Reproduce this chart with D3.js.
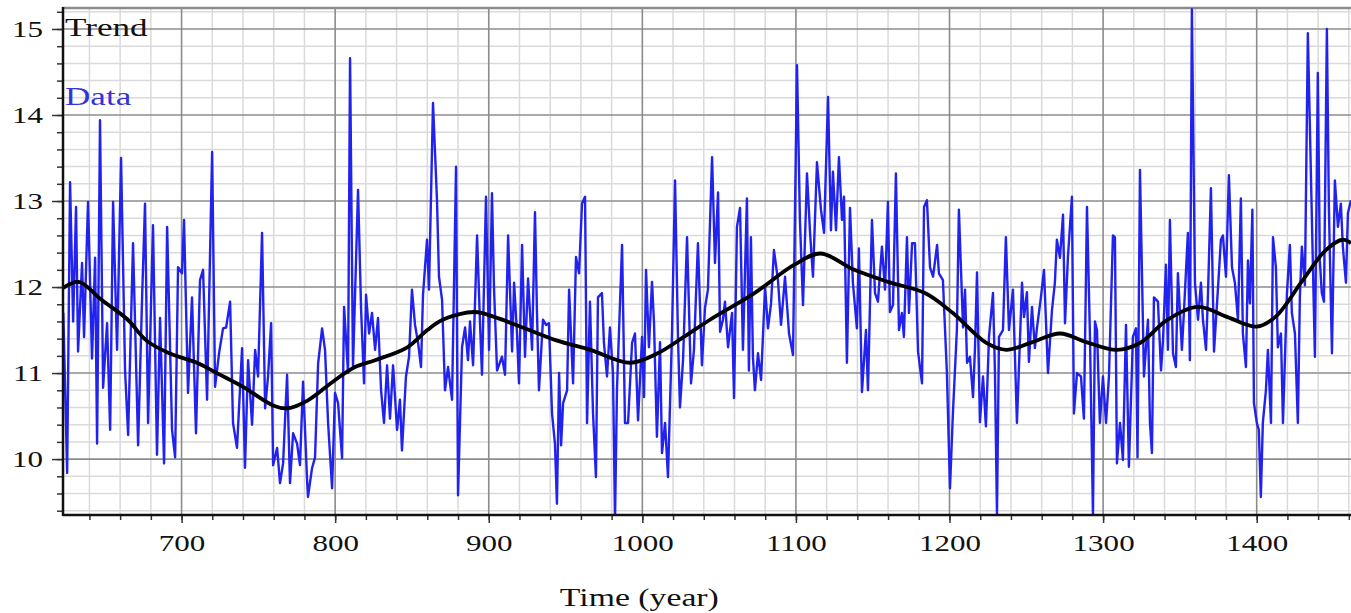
<!DOCTYPE html>
<html><head><meta charset="utf-8">
<script src="https://cdn.jsdelivr.net/npm/d3@7"></script>
<style>body{margin:0;background:#fff}svg{display:block}</style>
</head><body>
<svg id="chart" width="1351" height="613"></svg>
<script>
const dataYears = [623.0,625.5,627.4,629.4,631.3,632.6,635.2,636.5,639.1,641.7,643.7,645.0,646.9,648.9,651.5,653.5,655.4,658.0,660.6,663.2,665.2,668.4,671.7,674.3,676.2,678.2,681.4,684.0,686.0,688.6,690.6,693.8,695.8,697.7,700.3,701.6,704.2,706.8,709.4,712.0,714.0,716.6,719.9,721.8,724.4,727.0,729.0,731.6,733.5,736.1,739.4,741.3,743.3,745.9,747.9,749.8,752.4,754.4,756.3,758.3,759.6,762.2,764.1,766.1,768.7,770.6,772.6,775.2,777.1,779.1,781.7,782.3,784.9,786.9,788.9,791.5,793.4,795.4,798.0,799.9,801.9,804.5,805.8,808.4,809.7,811.6,814.9,816.9,818.8,820.1,822.1,824.0,826.0,827.9,829.9,831.8,833.8,835.7,837.7,840.3,842.2,843.5,846.1,848.1,850.0,852.0,854.0,855.9,857.2,859.8,861.1,863.7,866.3,867.6,869.6,871.5,873.5,876.1,878.7,880.0,882.6,884.6,886.5,887.8,889.8,892.4,894.3,895.6,898.2,900.2,902.1,903.4,905.4,908.6,910.6,912.6,915.2,916.5,918.4,919.7,921.7,923.6,925.6,928.2,930.1,931.4,932.7,935.3,937.3,939.2,941.2,943.1,944.4,945.8,947.1,948.4,951.0,952.3,954.9,956.8,958.8,960.7,962.7,964.0,965.9,967.9,969.8,971.1,973.7,975.0,977.0,978.9,980.9,982.2,983.5,986.8,988.7,990.7,993.3,995.2,997.2,999.8,1001.1,1002.4,1004.3,1006.3,1007.6,1009.5,1011.5,1012.8,1014.8,1016.7,1019.3,1021.3,1023.2,1024.5,1026.5,1029.1,1031.7,1033.6,1036.2,1038.8,1040.8,1042.7,1045.4,1047.3,1049.3,1050.6,1052.5,1053.8,1055.8,1058.4,1059.7,1061.6,1063.6,1065.5,1068.1,1069.4,1070.7,1072.0,1073.3,1075.3,1077.3,1079.9,1081.8,1083.8,1085.7,1088.3,1090.3,1092.9,1095.5,1098.1,1100.7,1102.6,1104.6,1107.2,1109.2,1111.1,1113.7,1116.3,1118.3,1120.9,1122.8,1124.1,1126.1,1128.0,1130.0,1131.3,1133.2,1135.2,1137.1,1139.7,1141.0,1143.0,1145.6,1146.9,1149.5,1151.5,1153.4,1156.0,1158.0,1159.9,1161.2,1163.2,1165.1,1167.1,1169.0,1170.3,1172.3,1173.6,1175.6,1177.5,1179.5,1182.1,1183.4,1185.3,1187.3,1189.3,1191.9,1193.1,1195.7,1198.3,1200.3,1202.2,1204.8,1206.1,1208.8,1210.1,1211.4,1213.3,1215.3,1216.6,1217.9,1219.8,1221.8,1223.7,1225.7,1228.3,1229.6,1230.9,1232.2,1234.8,1236.7,1238.7,1241.3,1243.9,1247.2,1248.5,1250.4,1251.7,1253.7,1255.6,1256.9,1259.5,1261.5,1264.1,1266.7,1268.6,1269.9,1271.9,1273.9,1275.2,1277.1,1279.7,1281.0,1283.0,1285.6,1287.5,1289.5,1291.4,1293.4,1294.7,1296.0,1297.9,1299.9,1301.9,1303.8,1306.4,1307.7,1309.0,1311.0,1312.9,1314.9,1316.8,1319.4,1321.4,1322.4,1324.0,1326.6,1329.2,1330.5,1331.8,1333.1,1335.7,1337.7,1339.0,1340.9,1342.2,1343.5,1345.5,1347.4,1348.7,1351.3,1352.6,1355.2,1356.5,1357.8,1359.8,1361.8,1363.7,1365.0,1367.0,1368.3,1370.2,1372.2,1374.8,1376.7,1378.0,1380.0,1381.9,1383.9,1385.8,1387.8,1389.7,1391.0,1393.0,1394.3,1395.6,1397.2,1398.2,1400.1,1401.4,1402.7,1404.0,1406.0,1407.3,1409.3,1410.6,1412.5,1413.8,1415.8,1417.1,1419.7,1421.6,1422.9,1424.9,1426.8,1428.1,1429.4,1431.4,1433.3,1435.9,1437.9,1439.8,1441.1,1442.4,1443.8,1445.7,1447.0,1449.0,1450.9,1452.9,1454.8,1456.1,1458.1,1459.4,1461.4];
const dataValues = [11.70,9.84,13.22,11.60,12.93,11.25,12.28,11.42,12.99,11.17,12.34,10.18,13.94,10.83,11.58,10.34,12.99,11.27,13.50,11.03,10.28,12.51,10.16,11.88,12.97,10.42,12.72,10.05,11.64,9.95,12.70,10.34,10.02,12.23,12.16,12.78,10.77,11.88,10.30,12.08,12.20,10.69,13.57,10.84,11.23,11.52,11.53,11.83,10.42,10.13,11.29,9.90,11.15,10.40,11.27,10.96,12.63,10.59,10.96,11.58,9.93,10.13,9.72,9.95,10.98,9.72,10.30,10.18,9.93,10.90,9.76,9.56,9.89,10.02,11.11,11.52,11.27,10.42,9.66,10.77,10.65,10.01,11.77,11.00,14.66,11.07,13.13,11.73,10.88,11.91,11.46,11.70,11.27,11.64,10.80,10.42,11.09,10.47,11.09,10.34,10.69,10.10,10.96,11.19,11.97,11.56,11.35,11.07,11.91,12.55,11.97,14.14,13.01,12.12,11.85,10.80,11.07,10.69,13.40,9.58,11.30,11.53,11.15,11.60,11.09,12.60,11.58,10.98,13.05,11.27,13.09,12.00,11.03,11.19,10.98,12.60,11.25,12.05,11.46,10.88,12.49,11.19,12.10,11.27,12.87,11.70,10.80,11.62,11.56,11.58,10.53,10.18,9.48,11.00,10.16,10.65,10.80,11.97,10.88,12.35,12.16,12.97,13.05,10.42,11.83,10.53,9.79,11.88,11.93,11.35,10.96,11.53,11.00,9.29,10.82,12.49,10.42,10.42,11.35,11.46,10.45,11.42,10.72,12.20,11.30,12.06,11.58,10.26,11.36,10.07,10.42,9.79,11.46,13.24,11.42,10.60,11.15,12.58,10.88,11.27,12.51,11.09,11.76,11.97,13.51,12.28,13.10,11.48,11.62,11.83,11.30,11.70,10.71,12.70,12.92,11.27,13.03,11.03,12.58,11.19,10.80,11.23,10.92,12.00,11.52,11.81,12.43,12.08,11.56,12.12,11.46,11.21,14.58,12.78,11.79,13.32,12.63,12.12,13.45,12.90,12.63,14.21,12.66,13.34,12.66,13.51,12.78,13.05,11.12,12.92,12.05,11.52,12.45,10.78,11.50,10.80,12.78,11.93,11.83,12.47,11.97,12.99,11.71,11.79,13.32,11.50,11.70,11.42,12.58,11.70,12.51,12.51,11.25,10.88,12.93,13.01,12.23,12.12,12.49,12.16,12.08,11.00,9.66,10.53,11.50,12.90,11.53,11.97,11.12,11.19,10.72,11.30,12.17,10.43,10.96,10.38,11.42,11.93,11.00,9.35,11.42,11.50,12.58,11.50,11.97,10.42,12.05,11.65,11.94,11.13,11.77,11.29,11.52,11.88,12.20,11.00,11.73,12.05,12.55,12.34,12.84,11.58,12.35,13.05,10.53,11.00,10.96,10.47,12.93,11.46,9.35,11.60,11.50,10.42,10.96,10.42,10.96,12.60,12.58,9.95,10.42,9.99,11.56,9.91,11.42,11.52,10.02,13.36,10.96,11.62,10.42,10.07,11.88,11.83,11.03,11.38,12.26,11.27,12.78,11.23,11.07,12.16,11.27,11.70,12.63,11.15,15.23,12.05,11.62,12.05,11.62,11.27,11.93,13.15,11.25,11.99,12.55,12.60,12.12,13.30,12.23,12.05,11.62,13.03,11.46,11.07,12.31,11.81,12.90,10.65,10.42,10.34,9.56,10.42,10.80,11.27,10.42,12.58,12.23,11.30,11.46,10.42,11.93,12.49,11.70,11.46,10.42,11.88,12.47,12.02,14.95,12.82,11.19,14.49,12.31,11.93,11.83,15.00,12.93,11.23,13.24,12.70,12.97,12.47,12.05,12.86,13.01];
const trendYears = [623,633,648,665,677,692,710,723,740,760,769,782,800,813,826,847,860,870,891,904,922,944,966,992,1010,1027,1044,1073,1099,1116,1138,1160,1184,1202,1224,1237,1254,1272,1289,1309,1324,1342,1362,1381,1400,1412,1430,1445,1456,1461.4];
const trendValues = [11.99,12.06,11.85,11.62,11.38,11.23,11.12,11.00,10.84,10.62,10.59,10.68,10.92,11.07,11.15,11.30,11.50,11.62,11.71,11.65,11.53,11.38,11.27,11.12,11.23,11.42,11.62,11.93,12.26,12.39,12.20,12.06,11.93,11.70,11.35,11.27,11.36,11.46,11.36,11.27,11.35,11.62,11.77,11.65,11.54,11.65,12.08,12.43,12.55,12.51];
const xTickLabels = [700,800,900,1000,1100,1200,1300,1400];
const yTickLabels = [10,11,12,13,14,15];
const xMinorTicks = d3.range(640, 1461, 20);
const yMinorTicks = d3.range(47, 77).map(d => +(d * 0.2).toFixed(1));

const L = 63, R = 1351, T = 8, B = 515;
const SX = 1.35;
const FONT = '"Liberation Serif","Times New Roman",serif';
const svg = d3.select('#chart');
const x = d3.scaleLinear().domain([622.8, 1461.4]).range([L, R]);
const y = d3.scaleLinear().domain([9.35, 15.244]).range([B, T]);

// minor grid
const grid = svg.append('g');
grid.selectAll('.vx').data(xMinorTicks.filter(d => d % 100 !== 0)).join('line')
  .attr('x1', d => x(d)).attr('x2', d => x(d)).attr('y1', T).attr('y2', B)
  .attr('stroke', '#dadada').attr('stroke-width', 1.5);
grid.selectAll('.hy').data(yMinorTicks.filter(d => Math.abs(d - Math.round(d)) > 0.01)).join('line')
  .attr('x1', L).attr('x2', R).attr('y1', d => y(d)).attr('y2', d => y(d))
  .attr('stroke', '#dadada').attr('stroke-width', 1.5);
// major grid
grid.selectAll('.mx').data(xTickLabels).join('line')
  .attr('x1', d => x(d)).attr('x2', d => x(d)).attr('y1', T).attr('y2', B)
  .attr('stroke', '#8c8c8c').attr('stroke-width', 1.6);
grid.selectAll('.my').data(yTickLabels).join('line')
  .attr('x1', L).attr('x2', R).attr('y1', d => y(d)).attr('y2', d => y(d))
  .attr('stroke', '#8c8c8c').attr('stroke-width', 1.6);
// top border
svg.append('line').attr('x1', L).attr('x2', R).attr('y1', T).attr('y2', T)
  .attr('stroke', '#8c8c8c').attr('stroke-width', 2.5);

// clip
svg.append('clipPath').attr('id', 'clip').append('rect')
  .attr('x', L).attr('y', T).attr('width', R - L).attr('height', B - T);

const pts = dataYears.map((d, i) => [d, dataValues[i]]);
svg.append('path').datum(pts).attr('clip-path', 'url(#clip)')
  .attr('fill', 'none').attr('stroke', '#2222ee').attr('stroke-width', 2.4)
  .attr('stroke-linejoin', 'round')
  .attr('d', d3.line().x(d => x(d[0])).y(d => y(d[1])));

const tpts = trendYears.map((d, i) => [d, trendValues[i]]);
svg.append('path').datum(tpts).attr('clip-path', 'url(#clip)')
  .attr('fill', 'none').attr('stroke', '#000').attr('stroke-width', 3.8)
  .attr('d', d3.line().curve(d3.curveCatmullRom.alpha(0.5)).x(d => x(d[0])).y(d => y(d[1])));

// axes
const xMinorAxis = svg.append('g').attr('transform', `translate(0,${B})`)
  .call(d3.axisBottom(x).tickValues(xMinorTicks).tickSize(5).tickFormat(''));
const xAxis = svg.append('g').attr('transform', `translate(0,${B})`)
  .call(d3.axisBottom(x).tickValues(xTickLabels).tickSize(8).tickFormat(d3.format('d')));
const yMinorAxis = svg.append('g').attr('transform', `translate(${L},0)`)
  .call(d3.axisLeft(y).tickValues(yMinorTicks).tickSize(6).tickFormat(''));
const yAxis = svg.append('g').attr('transform', `translate(${L},0)`)
  .call(d3.axisLeft(y).tickValues(yTickLabels).tickSize(11).tickFormat(d3.format('d')));

[xMinorAxis, xAxis, yMinorAxis, yAxis].forEach(g => {
  g.select('.domain').remove();
  g.selectAll('.tick line').attr('stroke', '#333').attr('stroke-width', 1.5);
});
xAxis.selectAll('text').attr('font-family', FONT).attr('font-size', 23).attr('fill', '#111')
  .attr('y', 36).attr('dy', 0).attr('transform', `scale(${SX},1)`);
yAxis.selectAll('text').attr('font-family', FONT).attr('font-size', 23).attr('fill', '#111')
  .attr('x', -20 / SX).attr('dy', '0.33em').attr('transform', `scale(${SX},1)`);

// spines
svg.append('line').attr('x1', L).attr('x2', L).attr('y1', T - 1).attr('y2', B + 1)
  .attr('stroke', '#111').attr('stroke-width', 2.5);
svg.append('line').attr('x1', L).attr('x2', R).attr('y1', B).attr('y2', B)
  .attr('stroke', '#111').attr('stroke-width', 2.5);

// legend-like labels
svg.append('text').attr('transform', `translate(65,36) scale(${SX},1)`)
  .attr('font-family', FONT).attr('font-size', 26).attr('fill', '#111').text('Trend');
svg.append('text').attr('transform', `translate(65,105) scale(${SX},1)`)
  .attr('font-family', FONT).attr('font-size', 26).attr('fill', '#3434d8').text('Data');

// x axis title
svg.append('text').attr('transform', `translate(${x(1000) - 3},606) scale(${SX},1)`)
  .attr('text-anchor', 'middle').attr('font-family', FONT).attr('font-size', 25)
  .attr('fill', '#111').text('Time (year)');
</script>
</body></html>
